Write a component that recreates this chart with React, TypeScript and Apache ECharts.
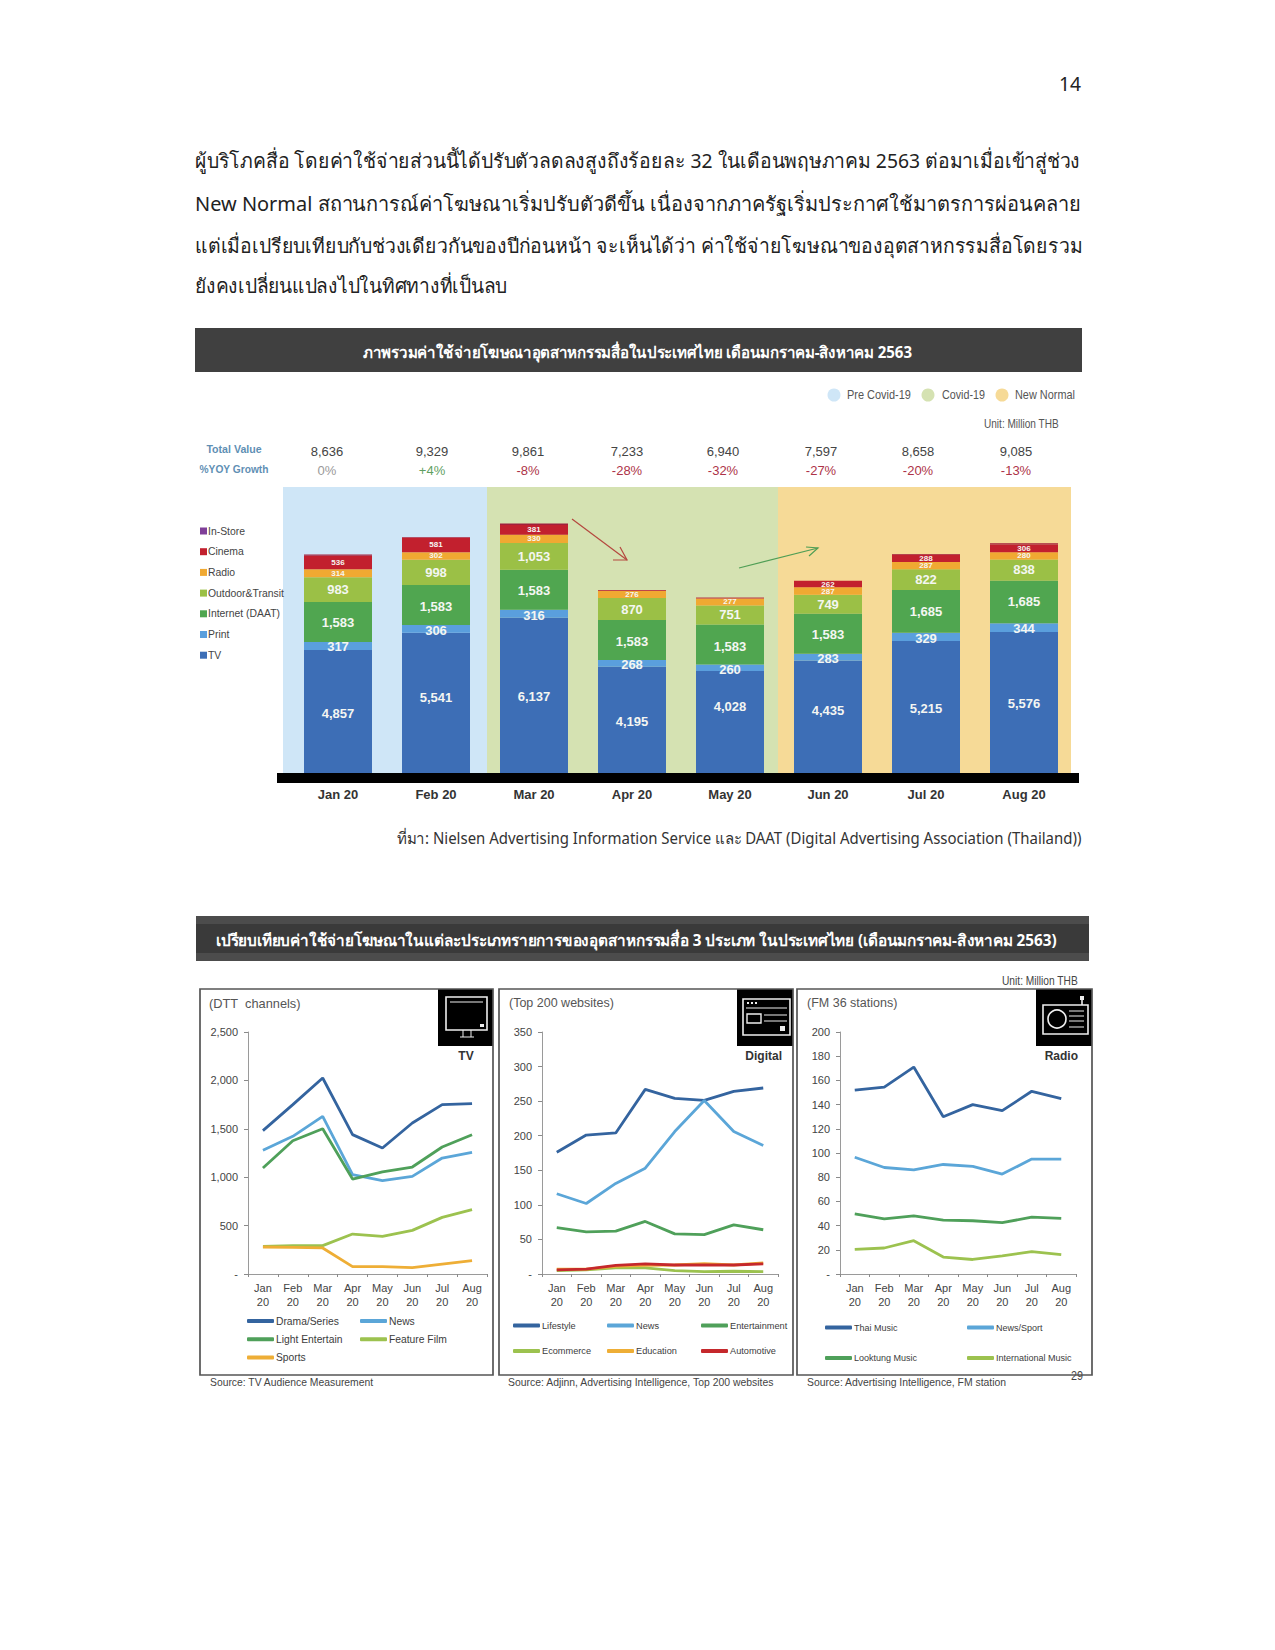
import React, { useEffect, useRef } from "react";
import * as echarts from "echarts";

const months = ["Jan 20", "Feb 20", "Mar 20", "Apr 20", "May 20", "Jun 20", "Jul 20", "Aug 20"];
const monthsTwoLine = ["Jan\n20", "Feb\n20", "Mar\n20", "Apr\n20", "May\n20", "Jun\n20", "Jul\n20", "Aug\n20"];

const tvSpend = [4857, 5541, 6137, 4195, 4028, 4435, 5215, 5576];
const printSpend = [317, 306, 316, 268, 260, 283, 329, 344];
const internetSpend = [1583, 1583, 1583, 1583, 1583, 1583, 1685, 1685];
const outdoorSpend = [983, 998, 1053, 870, 751, 749, 822, 838];
const radioSpend = [314, 302, 330, 276, 277, 287, 287, 280];
const cinemaSpend = [536, 581, 381, 30, 30, 262, 288, 306];
const inStoreSpend = [46, 18, 61, 11, 11, 0, 32, 56];

const totalLabels = ["8,636", "9,329", "9,861", "7,233", "6,940", "7,597", "8,658", "9,085"];
const growthLabels = ["0%", "+4%", "-8%", "-28%", "-32%", "-27%", "-20%", "-13%"];
const growthColors = ["#9a9a9a", "#5f9f62", "#ad3348", "#ad3348", "#ad3348", "#ad3348", "#ad3348", "#ad3348"];

const tvDrama = [1481, 1750, 2025, 1440, 1302, 1560, 1750, 1760];
const tvNews = [1278, 1422, 1629, 1026, 964, 1009, 1198, 1257];
const tvLight = [1095, 1377, 1501, 981, 1054, 1105, 1312, 1439];
const tvFilm = [286, 293, 293, 413, 389, 451, 585, 665];
const tvSports = [279, 275, 269, 76, 76, 65, 103, 138];

const webLifestyle = [176, 201, 204, 267, 254, 251, 264, 269];
const webNews = [116, 102, 131, 153, 206, 251, 206, 186];
const webEntertainment = [67, 61, 62, 76, 58, 57, 71, 64];
const webEcommerce = [5, 6, 9, 9, 5, 3.5, 4, 3.5];
const webEducation = [7, 7, 11, 12.5, 13, 15, 13, 16];
const webAutomotive = [6, 7, 12.5, 14.5, 13, 13, 13, 14.5];

const fmThai = [152, 154.5, 171, 130, 140, 135, 151, 145];
const fmNews = [96.5, 88, 86, 90.5, 89, 82.6, 95, 95];
const fmLooktung = [49.6, 45.5, 48, 44.6, 44, 42.4, 47, 46];
const fmInternational = [20.4, 21.5, 27.5, 14, 12, 15, 18.5, 16];

const bodyLines = [
  "ผู้บริโภคสื่อ โดยค่าใช้จ่ายส่วนนี้ได้ปรับตัวลดลงสูงถึงร้อยละ 32 ในเดือนพฤษภาคม 2563 ต่อมาเมื่อเข้าสู่ช่วง",
  "New Normal สถานการณ์ค่าโฆษณาเริ่มปรับตัวดีขึ้น เนื่องจากภาครัฐเริ่มประกาศใช้มาตรการผ่อนคลาย",
  "แต่เมื่อเปรียบเทียบกับช่วงเดียวกันของปีก่อนหน้า จะเห็นได้ว่า ค่าใช้จ่ายโฆษณาของอุตสาหกรรมสื่อโดยรวม",
  "ยังคงเปลี่ยนแปลงไปในทิศทางที่เป็นลบ",
];
const titleOne = "ภาพรวมค่าใช้จ่ายโฆษณาอุตสาหกรรมสื่อในประเทศไทย เดือนมกราคม-สิงหาคม 2563";
const titleTwo = "เปรียบเทียบค่าใช้จ่ายโฆษณาในแต่ละประเภทรายการของอุตสาหกรรมสื่อ 3 ประเภท ในประเทศไทย (เดือนมกราคม-สิงหาคม 2563)";
const sourceOne = "ที่มา: Nielsen Advertising Information Service และ DAAT (Digital Advertising Association (Thailand))";

const BLUE = "#3d6eb6", PRINT = "#5a9fdd", INTERNET = "#50a650", OUTDOOR = "#9bc046", RADIO = "#f0a932", CINEMA = "#c2202e", INSTORE = "#7f3f98";
const DARK = "#34649f", SKY = "#5ba6d8", GREEN = "#4fa05a", LIME = "#9cc24f", AMBER = "#eeae36", RED = "#c5282c";

const THAI = "'Noto Sans','DejaVu Sans',sans-serif";
const ARIAL = "'Liberation Sans',Arial,sans-serif";

const measure = (text: string, font: string) => {
  const ctx = document.createElement("canvas").getContext("2d")!;
  ctx.font = font;
  return ctx.measureText(text).width;
};

const txt = (text: string, x: number, y: number, o: any = {}) => ({
  type: "text", x, y, z: o.z ?? 50, silent: true,
  style: {
    text, fill: o.color ?? "#444",
    font: `${o.weight ?? "normal"} ${o.size ?? 12}px ${o.family ?? ARIAL}`,
    align: o.align ?? "left", verticalAlign: "middle",
  },
});

// text stretched to occupy the span [x1, x2]
const fit = (text: string, x1: number, x2: number, y: number, o: any = {}) => {
  const font = `${o.weight ?? "normal"} ${o.size ?? 12}px ${o.family ?? ARIAL}`;
  return { ...txt(text, x1, y, o), scaleX: (x2 - x1) / measure(text, font) };
};

const rect = (x: number, y: number, w: number, h: number, fill: string, z = 1) => ({
  type: "rect", z, silent: true, shape: { x, y, width: w, height: h }, style: { fill },
});
const frame = (x: number, y: number, w: number, h: number, stroke: string, lineWidth = 1.7, z = 51, fill = "none") => ({
  type: "rect", z, silent: true, shape: { x, y, width: w, height: h }, style: { fill, stroke, lineWidth },
});
const seg = (x1: number, y1: number, x2: number, y2: number, stroke: string, lineWidth = 1, z = 51) => ({
  type: "line", z, silent: true, shape: { x1, y1, x2, y2 }, style: { stroke, lineWidth },
});
const arrow = (x1: number, y1: number, x2: number, y2: number, head: number[][], stroke: string) => [
  seg(x1, y1, x2, y2, stroke, 1.2),
  { type: "polyline", z: 51, silent: true, shape: { points: head }, style: { stroke, lineWidth: 1.2, fill: "none" } },
];

const barSeries = (name: string, data: number[], color: string, size: number, labelShift: number[] = []) => ({
  name, type: "bar", stack: "total", barWidth: 68, xAxisIndex: 0, yAxisIndex: 0,
  data: data.map((value, i) => ({ value, label: { offset: [0, labelShift[i] ?? 0] } })),
  itemStyle: { color },
  label: {
    show: size > 0, position: "inside", color: "#f4f6f2", fontFamily: ARIAL, fontWeight: "bold", fontSize: size,
    formatter: (p: any) => (p.value >= 100 ? Number(p.value).toLocaleString("en-US") : ""),
  },
});

const lineSeries = (name: string, data: number[], color: string, axis: number) => ({
  name, type: "line", data, xAxisIndex: axis, yAxisIndex: axis,
  symbol: "none", smooth: false, lineStyle: { color, width: 2.8 }, itemStyle: { color },
});

const smallGrid = (left: number, width: number) => ({ left, width, top: 1032, height: 242 });

const smallX = (gridIndex: number) => ({
  type: "category", gridIndex, data: monthsTwoLine, boundaryGap: true,
  axisLine: { show: true, lineStyle: { color: "#9a9a9a" } },
  axisTick: { show: true, length: 3, lineStyle: { color: "#8a8a8a" } },
  axisLabel: { color: "#444", fontFamily: ARIAL, fontSize: 11, lineHeight: 14, margin: 7, interval: 0 },
});
const smallY = (gridIndex: number, max: number, interval: number) => ({
  type: "value", gridIndex, min: 0, max, interval, splitLine: { show: false },
  axisLine: { show: true, lineStyle: { color: "#9a9a9a" } },
  axisTick: { show: true, length: 4, lineStyle: { color: "#8a8a8a" } },
  axisLabel: {
    color: "#444", fontFamily: ARIAL, fontSize: 11, margin: 10,
    formatter: (v: number) => (v === 0 ? "-" : Number(v).toLocaleString("en-US")),
  },
});

const lineLegend = (data: string[], left: number, top: number, itemGap: number, fontSize: number, itemWidth = 27) => ({
  data, left, top, orient: "vertical", itemGap, itemWidth, itemHeight: 4, icon: "roundRect", selectedMode: false,
  padding: 0,
  textStyle: { color: "#3c3c3c", fontFamily: ARIAL, fontSize, padding: [0, 0, 0, -3] },
});

const totalCentres = [327, 432, 528, 627, 723, 821, 918, 1016];

const buildOption = () => {
  const elements: any[] = [
    fit("14", 1059, 1081, 83, { size: 20, family: THAI, color: "#222" }),
    ...bodyLines.map((line, i) =>
      fit(line, 195, [1077, 1080, 1082, 511][i], [160, 203, 245, 285][i], { size: 20, family: THAI, color: "#222" })),
    rect(195, 328, 887, 44, "#404040"),
    fit(titleOne, 363, 927, 352, { size: 16, weight: "bold", family: THAI, color: "#ffffff" }),

    { type: "circle", z: 50, silent: true, shape: { cx: 834, cy: 395, r: 6.5 }, style: { fill: "#cfe6f7" } },
    { type: "circle", z: 50, silent: true, shape: { cx: 928, cy: 395, r: 6.5 }, style: { fill: "#d5e2b2" } },
    { type: "circle", z: 50, silent: true, shape: { cx: 1002, cy: 395, r: 6.5 }, style: { fill: "#f6da97" } },
    fit("Pre Covid-19", 847, 911, 395, { size: 12, color: "#555" }),
    fit("Covid-19", 942, 985, 395, { size: 12, color: "#555" }),
    fit("New Normal", 1015, 1075, 395, { size: 12, color: "#555" }),
    fit("Unit: Million THB", 984, 1059, 424, { size: 12, color: "#555" }),

    txt("Total Value", 234, 449, { align: "center", size: 10.6, weight: "bold", color: "#5f8fb4" }),
    txt("%YOY Growth", 234, 469, { align: "center", size: 10.2, weight: "bold", color: "#5f8fb4" }),
    ...totalLabels.map((t, i) => txt(t, totalCentres[i], 451, { align: "center", size: 13, color: "#444" })),
    ...growthLabels.map((t, i) => txt(t, totalCentres[i], 470, { align: "center", size: 13, color: growthColors[i] })),

    rect(283, 487, 204, 286, "#cfe6f7", 0),
    rect(487, 487, 291, 286, "#d5e2b2", 0),
    rect(778, 487, 293, 286, "#f6da97", 0),
    rect(277, 773, 802, 10, "#000000", 40),
    ...arrow(572, 519, 627, 560, [[613, 560], [627, 560], [620, 547]], "#b5483f"),
    ...arrow(739, 568, 818, 548, [[806, 547], [818, 548], [809, 556]], "#4f9e55"),

    fit(sourceOne, 397, 1084, 838, { size: 16, family: THAI, color: "#333" }),

    rect(196, 916, 893, 45, "#4c4c4c"),
    rect(196, 924, 893, 29, "#3a3a3a"),
    fit(titleTwo, 216, 1077, 940, { size: 16, weight: "bold", family: THAI, color: "#ffffff" }),

    fit("Unit: Million THB", 1002, 1078, 981, { size: 12, color: "#444" }),

    frame(200, 989, 293, 386, "#555"),
    frame(499, 989, 294, 386, "#555"),
    frame(797, 989, 295, 386, "#555"),

    rect(438, 989, 55, 57, "#000", 50),
    rect(737, 989, 56, 57, "#000", 50),
    rect(1036, 989, 56, 57, "#000", 50),

    // TV icon
    frame(446, 997, 41, 33, "#eee", 1.6),
    seg(450, 1002, 483, 1002, "#eee"),
    rect(480, 1024, 4, 3, "#eee", 51),
    seg(463, 1030, 463, 1037, "#eee"), seg(471, 1030, 471, 1037, "#eee"), seg(460, 1037, 474, 1037, "#eee"),

    // Digital icon
    frame(743, 999, 47, 36, "#eee", 1.6),
    seg(746, 1008, 787, 1008, "#eee"),
    rect(747, 1002, 2, 2, "#eee", 51), rect(751, 1002, 2, 2, "#eee", 51), rect(755, 1002, 2, 2, "#eee", 51),
    frame(747, 1014, 14, 9, "#eee", 1.4),
    seg(764, 1015, 787, 1015, "#eee"), seg(764, 1021, 787, 1021, "#eee"),
    rect(780, 1026, 5, 5, "#eee", 51),

    // Radio icon
    frame(1043, 1005, 45, 29, "#eee", 1.6),
    { type: "circle", z: 51, silent: true, shape: { cx: 1057, cy: 1019, r: 9 }, style: { fill: "#000", stroke: "#eee", lineWidth: 1.6 } },
    seg(1069, 1011, 1084, 1011, "#eee"), seg(1069, 1016, 1084, 1016, "#eee"),
    seg(1069, 1021, 1084, 1021, "#eee"), seg(1069, 1027, 1084, 1027, "#eee"),
    seg(1082, 999, 1082, 1005, "#eee", 1.6), rect(1080, 996, 4, 4, "#eee", 51),

    txt("(DTT  channels)", 209, 1003, { size: 12.8, color: "#555" }),
    txt("(Top 200 websites)", 509, 1003, { size: 12.5, color: "#555" }),
    txt("(FM 36 stations)", 807, 1003, { size: 12.5, color: "#555" }),
    txt("TV", 466, 1056, { size: 12, weight: "bold", color: "#333", align: "center" }),
    txt("Digital", 782, 1056, { size: 12, weight: "bold", color: "#333", align: "right" }),
    txt("Radio", 1078, 1056, { size: 12, weight: "bold", color: "#333", align: "right" }),

    fit("Source: TV Audience Measurement", 210, 374, 1382, { size: 11, color: "#444" }),
    fit("Source: Adjinn, Advertising Intelligence, Top 200 websites", 508, 775, 1382, { size: 11, color: "#444" }),
    fit("Source: Advertising Intelligence, FM station", 807, 1007, 1382, { size: 11, color: "#444" }),
    fit("29", 1071, 1083, 1376, { size: 12, color: "#444" }),
  ];

  return {
    animation: false,
    backgroundColor: "#ffffff",
    graphic: { elements },
    grid: [
      { left: 289, width: 784, top: 520, height: 253 },
      smallGrid(248, 239),
      smallGrid(542, 236),
      smallGrid(840, 236),
    ],
    xAxis: [
      {
        type: "category", gridIndex: 0, data: months, axisLine: { show: false }, axisTick: { show: false },
        axisLabel: { color: "#333", fontFamily: ARIAL, fontWeight: "bold", fontSize: 13, margin: 15, interval: 0 },
      },
      smallX(1), smallX(2), smallX(3),
    ],
    yAxis: [
      { type: "value", gridIndex: 0, min: 0, max: 10000, show: false, splitLine: { show: false } },
      smallY(1, 2500, 500), smallY(2, 350, 50), smallY(3, 200, 20),
    ],
    legend: [
      {
        data: [
          { name: "In-Store", itemStyle: { color: INSTORE } },
          "Cinema", "Radio", "Outdoor&Transit", "Internet (DAAT)", "Print", "TV",
        ],
        left: 200, top: 526, orient: "vertical", itemWidth: 7, itemHeight: 7, itemGap: 10.7, icon: "rect", selectedMode: false, padding: 0,
        textStyle: { color: "#444", fontFamily: ARIAL, fontSize: 10.4, padding: [0, 0, 0, -4] },
      },
      lineLegend(["Drama/Series", "Light Entertain", "Sports"], 247, 1316, 8.2, 10.3),
      lineLegend(["News", "Feature Film"], 360, 1316, 8.2, 10.3),
      lineLegend(["Lifestyle", "Ecommerce"], 513, 1321, 16.5, 9.2),
      lineLegend(["News ", "Education"], 607, 1321, 16.5, 9.2),
      lineLegend(["Entertainment", "Automotive"], 701, 1321, 16.5, 9.2),
      lineLegend(["Thai Music", "Looktung Music"], 825, 1323, 21.5, 9),
      lineLegend(["News/Sport", "International Music"], 967, 1323, 21.5, 9),
    ],
    series: [
      barSeries("TV", tvSpend, BLUE, 13, [2, -5, 1, 2, -16, -6, 1, 1]),
      barSeries("Print", printSpend, PRINT, 13, [0, 2, 2, 1, 2, 1, 2, 1]),
      barSeries("Internet (DAAT)", internetSpend, INTERNET, 13, [0, 1, 1, 1, 2, 1, 0, 0]),
      barSeries("Outdoor&Transit", outdoorSpend, OUTDOOR, 13),
      barSeries("Radio", radioSpend, RADIO, 8),
      barSeries("Cinema", cinemaSpend, CINEMA, 8),
      barSeries("In-Store", inStoreSpend, "#a2203c", 0),

      lineSeries("Drama/Series", tvDrama, DARK, 1),
      lineSeries("News", tvNews, SKY, 1),
      lineSeries("Light Entertain", tvLight, GREEN, 1),
      lineSeries("Feature Film", tvFilm, LIME, 1),
      lineSeries("Sports", tvSports, AMBER, 1),

      lineSeries("Lifestyle", webLifestyle, DARK, 2),
      lineSeries("News ", webNews, SKY, 2),
      lineSeries("Entertainment", webEntertainment, GREEN, 2),
      lineSeries("Ecommerce", webEcommerce, LIME, 2),
      lineSeries("Education", webEducation, AMBER, 2),
      lineSeries("Automotive", webAutomotive, RED, 2),

      lineSeries("Thai Music", fmThai, DARK, 3),
      lineSeries("News/Sport", fmNews, SKY, 3),
      lineSeries("Looktung Music", fmLooktung, GREEN, 3),
      lineSeries("International Music", fmInternational, LIME, 3),
    ],
  };
};

export default function App() {
  const ref = useRef<HTMLDivElement>(null);
  useEffect(() => {
    const chart = echarts.init(ref.current!, undefined, { renderer: "svg" });
    chart.setOption(buildOption());
    return () => chart.dispose();
  }, []);
  return <div ref={ref} style={{ position: "absolute", left: 0, top: 0, width: 1275, height: 1650 }} />;
}
